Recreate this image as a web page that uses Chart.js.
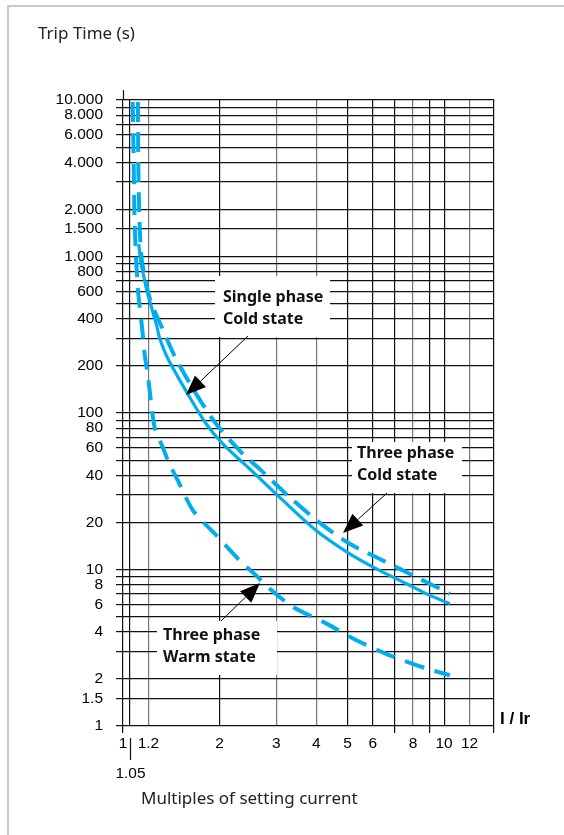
<!DOCTYPE html>
<html>
<head>
<meta charset="utf-8">
<script src="https://cdn.jsdelivr.net/npm/chart.js@4.4.1/dist/chart.umd.min.js"></script>
<style>
  html, body { margin: 0; padding: 0; background: #fff; }
  canvas { display: block; }
</style>
</head>
<body>
<canvas id="tripChart" width="564" height="835"></canvas>
<script>
// axis ticks (log-log grid)
const xTicks = [1, 1.05, 1.2, 2, 3, 4, 5, 6, 7, 8, 9, 10, 12, 14.3];
const xTickLabels = ['1', '', '1.2', '2', '3', '4', '5', '6', '', '8', '', '10', '12', ''];
const yTicks = [1, 1.5, 2, 3, 4, 5, 6, 7, 8, 9,
  10, 20, 30, 40, 50, 60, 70, 80, 90,
  100, 200, 300, 400, 500, 600, 700, 800, 900,
  1000, 1500, 2000, 3000, 4000, 5000, 6000, 7000, 8000, 9000, 10000];
const yTickLabels = ['1', '1.5', '2', '', '4', '', '6', '', '8', '',
  '10', '20', '', '40', '', '60', '', '80', '',
  '100', '200', '', '400', '', '600', '', '800', '',
  '1.000', '1.500', '2.000', '', '4.000', '', '6.000', '', '8.000', '', '10.000'];

// Single phase, cold state (solid)
const singleColdX = [1.12, 1.135, 1.16, 1.196, 1.271, 1.301, 1.378, 1.594, 1.819, 2.049, 2.45, 3.077, 4.004, 5.084, 6.158, 7.636, 9.027, 10.42];
const singleColdY = [1200, 930, 750, 570, 367, 300, 224, 131.6, 84.7, 63.2, 45, 28.9, 17.7, 12.6, 10.1, 8.11, 6.83, 6.05];
// Three phase, cold state (dashed, upper)
const threeColdX = [1.113, 1.115, 1.12, 1.136, 1.16, 1.211, 1.317, 1.459, 1.693, 1.954, 2.365, 2.667, 3.306, 4.151, 5.084, 6.457, 8.204, 10.42];
const threeColdY = [9700, 5000, 2500, 1100, 800, 543, 358, 224, 131.6, 84.7, 54.6, 43.8, 28.9, 19.5, 14.6, 11.4, 8.93, 7.0];
// Three phase, warm state (dashed, lower)
const threeWarmX = [1.072, 1.078, 1.085, 1.095, 1.115, 1.148, 1.168, 1.196, 1.255, 1.332, 1.381, 1.483, 1.653, 1.954, 2.31, 2.62, 2.864, 3.386, 4.301, 5.335, 6.773, 8.814, 10.42];
const threeWarmY = [9700, 5000, 2000, 1100, 590, 343, 237, 172, 80.6, 60, 49.5, 36.9, 23.8, 16.5, 11.4, 9.0, 7.53, 5.75, 4.51, 3.53, 2.83, 2.33, 2.11];

const toPoints = (xs, ys) => xs.map((x, i) => ({ x: x, y: ys[i] }));

const blue = '#00aeef';
const greyX = [1.2, 3, 4, 8, 12];
const tickedX = [1, 7, 9, 14.3];

function drawArrow(c, x1, y1, x2, y2) {
  const ang = Math.atan2(y2 - y1, x2 - x1);
  const len = 20, half = 8;
  const bx = x2 - len * Math.cos(ang), by = y2 - len * Math.sin(ang);
  c.beginPath();
  c.moveTo(x1, y1);
  c.lineTo(bx, by);
  c.lineWidth = 1;
  c.strokeStyle = '#000';
  c.stroke();
  c.beginPath();
  c.moveTo(x2, y2);
  c.lineTo(bx + half * Math.sin(ang), by - half * Math.cos(ang));
  c.lineTo(bx - half * Math.sin(ang), by + half * Math.cos(ang));
  c.closePath();
  c.fillStyle = '#000';
  c.fill();
}

function label(c, x, y, w, h, lines, tx, ty) {
  c.fillStyle = '#fff';
  c.fillRect(x, y, w, h);
  c.fillStyle = '#111';
  c.font = 'bold 16px "Noto Sans"';
  c.textAlign = 'left';
  c.textBaseline = 'middle';
  lines.forEach((t, i) => c.fillText(t, tx, ty + i * 22.5));
}

const extras = {
  id: 'extras',
  beforeDraw(chart) {
    const c = chart.ctx;
    c.save();
    c.fillStyle = '#fff';
    c.fillRect(0, 0, chart.width, chart.height);
    c.strokeStyle = '#cacaca';
    c.lineWidth = 2;
    c.beginPath();
    c.moveTo(8, chart.height);
    c.lineTo(8, 6);
    c.lineTo(chart.width, 6);
    c.stroke();
    c.restore();
  },
  afterDraw(chart) {
    const c = chart.ctx;
    const xs = chart.scales.x;
    const area = chart.chartArea;
    c.save();

    // y axis line sticking out above the grid
    const x1 = Math.round(xs.getPixelForValue(1)) + 0.5;
    c.strokeStyle = '#111';
    c.lineWidth = 1.2;
    c.beginPath();
    c.moveTo(x1, area.top - 10);
    c.lineTo(x1, area.top);
    c.stroke();

    // 1.05 marker
    const x105 = Math.round(xs.getPixelForValue(1.05)) + 0.5;
    c.beginPath();
    c.moveTo(x105, area.bottom + 12);
    c.lineTo(x105, area.bottom + 34);
    c.stroke();
    c.fillStyle = '#000';
    c.font = '15.5px "Liberation Sans"';
    c.textAlign = 'center';
    c.textBaseline = 'middle';
    c.fillText('1.05', x105, area.bottom + 48);

    // axis names
    c.font = 'bold 17px "Liberation Sans"';
    c.textAlign = 'left';
    c.fillText('I / Ir', 500, 719);
    c.fillStyle = '#222';
    c.font = '17px "Noto Sans"';
    c.fillText('Trip Time (s)', 38, 34);
    c.fillText('Multiples of setting current', 141, 799);

    // curve labels
    label(c, 215, 276, 115, 61, ['Single phase', 'Cold state'], 223, 297);
    drawArrow(c, 248, 336, 186, 395);
    label(c, 352, 442, 110, 51, ['Three phase', 'Cold state'], 357, 453);
    drawArrow(c, 387, 493, 343, 533);
    label(c, 157, 621, 120, 54, ['Three phase', 'Warm state'], 163, 635);
    drawArrow(c, 221, 621, 260, 583);

    c.restore();
  }
};

new Chart(document.getElementById('tripChart'), {
  type: 'scatter',
  data: {
    datasets: [
      {
        label: 'Single phase Cold state',
        data: toPoints(singleColdX, singleColdY),
        showLine: true,
        borderColor: blue,
        borderWidth: 3.2,
        pointRadius: 0,
        tension: 0.3
      },
      {
        label: 'Three phase Cold state',
        data: toPoints(threeColdX, threeColdY),
        showLine: true,
        borderColor: blue,
        borderWidth: 4,
        borderDash: [20, 10],
        pointRadius: 0,
        tension: 0.3
      },
      {
        label: 'Three phase Warm state',
        data: toPoints(threeWarmX, threeWarmY),
        showLine: true,
        borderColor: blue,
        borderWidth: 4,
        borderDash: [20, 11],
        pointRadius: 0,
        tension: 0.25
      }
    ]
  },
  options: {
    responsive: false,
    animation: false,
    layout: { padding: { left: 0, right: 70, top: 100, bottom: 0 } },
    plugins: {
      legend: { display: false },
      tooltip: { enabled: false }
    },
    scales: {
      x: {
        type: 'logarithmic',
        min: 1,
        max: 14.3,
        afterBuildTicks: (s) => { s.ticks = xTicks.map(v => ({ value: v })); },
        afterFit: (s) => { s.height = 109; },
        border: { display: false },
        grid: {
          lineWidth: 1.2,
          tickLength: 7,
          color: (ctx) => greyX.includes(ctx.tick && ctx.tick.value) ? '#777' : '#111',
          tickColor: (ctx) => tickedX.includes(ctx.tick && ctx.tick.value) ? '#111' : 'rgba(0,0,0,0)'
        },
        ticks: {
          autoSkip: false,
          maxRotation: 0,
          padding: 1,
          color: '#000',
          font: { family: '"Liberation Sans"', size: 15.5 },
          callback: (v) => {
            const i = xTicks.indexOf(v);
            return i >= 0 ? xTickLabels[i] : '';
          }
        }
      },
      y: {
        type: 'logarithmic',
        min: 1,
        max: 10000,
        afterBuildTicks: (s) => { s.ticks = yTicks.map(v => ({ value: v })); },
        afterFit: (s) => { s.width = 123; },
        border: { display: false },
        grid: {
          lineWidth: 1.2,
          tickLength: 7,
          color: '#111',
          tickColor: '#111'
        },
        ticks: {
          autoSkip: false,
          padding: 13,
          color: '#000',
          font: { family: '"Liberation Sans"', size: 15.5 },
          callback: (v) => {
            const i = yTicks.indexOf(v);
            return i >= 0 ? yTickLabels[i] : '';
          }
        }
      }
    }
  },
  plugins: [extras]
});
</script>
</body>
</html>
